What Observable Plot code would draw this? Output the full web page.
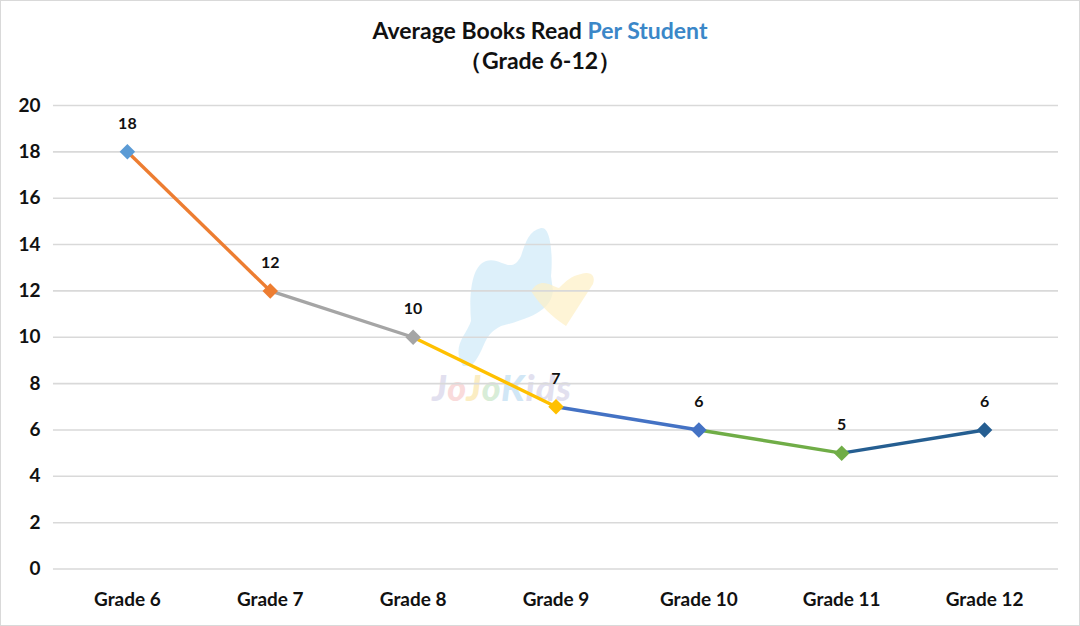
<!DOCTYPE html>
<html>
<head>
<meta charset="utf-8">
<script src="https://cdn.jsdelivr.net/npm/d3@7"></script>
<script src="https://cdn.jsdelivr.net/npm/@observablehq/plot@0.6"></script>
<style>
  html, body { margin: 0; padding: 0; background: #fff; }
  #wrap { position: relative; width: 1078px; height: 624px; border: 1px solid #d9d9d9; overflow: hidden; font-family: Lato, "Open Sans", sans-serif; }
  #title { position: absolute; left: 0; top: 14px; width: 1078px; text-align: center; font-weight: bold; font-size: 23px; line-height: 30px; color: #111; }
  #title .blue { color: #3B87C8; }
  #chart { position: absolute; left: -1px; top: 79px; }
  #logo { position: absolute; left: 440px; top: 215px; }
  #wm { position: absolute; left: 431px; top: 364px; font-size: 36px; font-weight: 900; font-style: italic; letter-spacing: 1px; opacity: 0.4; }
</style>
</head>
<body>
<div id="wrap">
  <div id="title">Average Books Read <span class="blue">Per Student</span><br>（Grade 6-12）</div>
  <svg id="logo" width="170" height="170">
    <path d="M22,150 C10,130 25,120 30,105 C28,80 30,50 45,45 C60,40 70,60 80,40 C85,25 88,15 100,12 C110,10 112,40 110,60 L112,75 C110,90 100,100 60,110 C40,120 45,135 30,150 Z" fill="#cfe9f8" opacity="0.7"/>
    <path d="M90,75 C100,60 110,70 118,72 C125,65 130,60 140,58 C150,55 155,60 152,68 L125,110 C110,100 100,90 90,75 Z" fill="#fdf0c4" opacity="0.7"/>
  </svg>
  <div id="wm"><span style="color:#b7b4d9">J</span><span style="color:#f2a6a6">o</span><span style="color:#f7d36b">J</span><span style="color:#9fd3a0">o</span><span style="color:#8ec5ea">K</span><span style="color:#b7b4d9">i</span><span style="color:#b7b4d9">d</span><span style="color:#b7b4d9">s</span></div>
  <div id="chart"></div>
</div>
<script>
const grades = ["Grade 6", "Grade 7", "Grade 8", "Grade 9", "Grade 10", "Grade 11", "Grade 12"];
const books = [18, 12, 10, 7, 6, 5, 6];
const pointColors = ["#5B9BD5", "#ED7D31", "#A5A5A5", "#FFC000", "#4472C4", "#70AD47", "#255E91"];
const yTicks = [0, 2, 4, 6, 8, 10, 12, 14, 16, 18, 20];

const points = grades.map((g, i) => ({grade: g, value: books[i], color: pointColors[i]}));
const segments = points.slice(1).map((p, i) => ({
  g1: points[i].grade, v1: points[i].value, g2: p.grade, v2: p.value, color: p.color
}));

const chart = Plot.plot({
  width: 1080,
  height: 546,
  marginTop: 25,
  marginBottom: 57,
  marginLeft: 53,
  marginRight: 21,
  style: {fontFamily: "Lato, 'Open Sans', sans-serif", fontWeight: "bold", color: "#111", background: "transparent"},
  x: {type: "point", domain: grades, padding: 0.5, label: null},
  y: {domain: [0, 20], ticks: yTicks, label: null},
  marks: [
    Plot.ruleY(yTicks, {stroke: "#d9d9d9", strokeWidth: 1.6}),
    Plot.axisY({ticks: yTicks, tickSize: 0, tickPadding: 13, fontSize: 19, label: null, textAnchor: "end"}),
    Plot.axisX({tickSize: 0, tickPadding: 23, fontSize: 19, label: null}),
    Plot.link(segments, {x1: "g1", y1: "v1", x2: "g2", y2: "v2", stroke: d => d.color, strokeWidth: 3.4}),
    Plot.dot(points, {x: "grade", y: "value", symbol: "diamond2", r: 7, fill: d => d.color, stroke: "none"}),
    Plot.text(points, {x: "grade", y: "value", text: d => String(d.value), dy: -28, fontSize: 16, fontWeight: "bold", fill: "#111"})
  ]
});
document.getElementById("chart").appendChild(chart);
</script>
</body>
</html>
